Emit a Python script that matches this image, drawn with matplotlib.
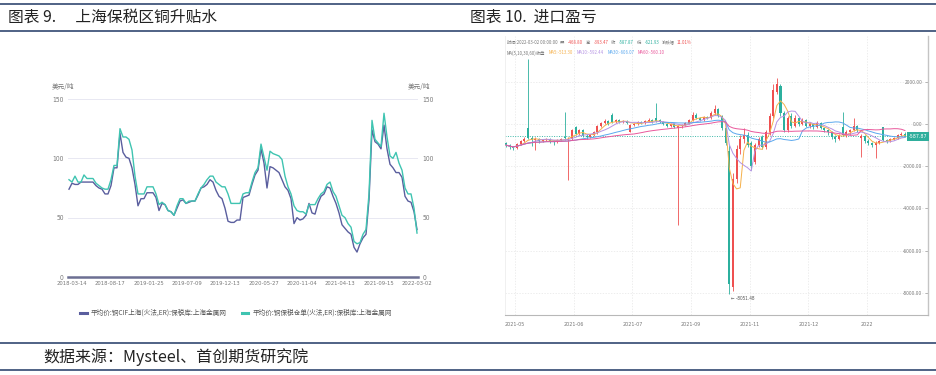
import numpy as np
import pandas as pd
import matplotlib
matplotlib.use('Agg')
import matplotlib.pyplot as plt
from matplotlib.lines import Line2D
from matplotlib import transforms, font_manager

W, H = 937, 375
CJK = ['Noto Sans CJK SC', 'DejaVu Sans']

# narrow face for the small numeric labels, if one is installed
_narrow = [f for f in font_manager.fontManager.ttflist
           if ('Narrow' in f.name or 'Condensed' in f.name or f.stretch in ('condensed', 'semi-condensed'))
           and f.style == 'normal' and f.weight in (400, 'normal', 'regular')]


def num_font(size):
    if _narrow:
        return font_manager.FontProperties(fname=_narrow[0].fname, size=size)
    return font_manager.FontProperties(family=CJK, size=size * 0.95)


# ---- chart 9: 上海保税区铜升贴水 (美元/吨), evenly sampled from 2018-03-14 to 2022-03-02
left_ticklabels = ['2018-03-14', '2018-08-17', '2019-01-25', '2019-07-09', '2019-12-13',
                   '2020-05-27', '2020-11-04', '2021-04-13', '2021-09-15', '2022-03-02']
cif_premium = [74, 79, 78, 78, 80, 80, 80, 80, 80, 77, 75, 74, 70, 70, 77, 92, 92, 121, 105, 101,
               100, 92, 78, 60, 66, 66, 71, 71, 71, 67, 56, 62, 61, 56, 55, 52, 58, 64, 65, 62,
               63, 64, 64, 69, 75, 76, 78, 82, 80, 73, 68, 66, 58, 47, 46, 46, 48, 48, 67, 68,
               69, 78, 86, 90, 108, 96, 75, 93, 92, 90, 88, 82, 76, 73, 66, 45, 50, 48, 49, 52,
               62, 54, 53, 62, 68, 70, 76, 75, 68, 62, 54, 44, 41, 38, 36, 25, 21, 28, 33, 36,
               65, 124, 114, 112, 108, 128, 108, 95, 92, 88, 88, 84, 68, 64, 63, 55, 40]
bonded_premium = [82, 80, 85, 80, 80, 86, 83, 83, 83, 79, 77, 75, 74, 74, 82, 94, 94, 125, 118, 118,
                  116, 107, 85, 70, 70, 70, 76, 76, 76, 70, 61, 63, 61, 56, 55, 52, 60, 66, 66, 62,
                  64, 64, 64, 70, 75, 78, 82, 85, 85, 80, 78, 76, 76, 70, 62, 62, 62, 62, 70, 71,
                  71, 80, 88, 92, 112, 101, 90, 106, 104, 103, 102, 99, 85, 76, 70, 60, 56, 55, 55, 53,
                  61, 61, 61, 66, 70, 72, 78, 80, 72, 68, 60, 52, 50, 45, 42, 30, 28, 29, 36, 40,
                  70, 132, 116, 113, 110, 138, 118, 102, 100, 105, 96, 90, 75, 70, 70, 58, 37]
left_legend = ['平均价:铜CIF上海(火法,ER):保税库:上海金属网', '平均价:铜保税仓单(火法,ER):保税库:上海金属网']

# ---- chart 10: 进口盈亏 daily candles (元/吨)
right_ticklabels = ['2021-05', '2021-06', '2021-07', '2021-09', '2021-11', '2021-12', '2022']
opens = [-900, -1000, -1100, -1150, -950, -800, -200, -650, -750, -700,
         -800, -750, -700, -800, -850, -750, -600, -780, -700, -150,
         -450, -300, -550, -600, -500, -400, -100, 50, 150, 450,
         100, 200, 100, 150, -380, -50, 0, 100, 50, 150,
         200, 300, 200, 100, 0, -100, 0, -200, -100, -50,
         50, 200, 450, 300, 200, 350, 300, 500, 700, 400,
         -200, -1300, -7700, -2600, -1200, -700, -500, -900, -1800, -1000,
         -600, -1100, -400, 400, 1500, 1800, 500, -300, 400, -100,
         300, 0, 200, -100, 0, -150, 50, -200, -300, -400,
         -600, -700, -150, -500, -400, -300, -100, -650, -550, -800,
         -900, -1000, -900, -150, -750, -800, -700, -650, -500, -468.80]
closes = [-1000, -1100, -1150, -950, -800, -700, -650, -750, -700, -800,
          -750, -700, -800, -850, -750, -700, -680, -700, -300, -450,
          -300, -550, -600, -500, -400, -100, 50, 150, 0, 100,
          200, 100, 150, 50, -50, 0, 100, 50, 150, 200,
          100, 150, 100, 0, -100, 0, -150, -100, -50, 50,
          200, 450, 300, 200, 350, 300, 500, 700, 400, -200,
          -900, -7600, -2600, -1200, -700, -500, -1000, -2000, -1000, -700,
          -1100, -400, 400, 1600, 1900, 500, -300, 300, -100, 300,
          0, 200, -100, 0, -150, 50, -200, -300, -400, -600,
          -700, -500, -500, -400, -300, -100, -300, -550, -800, -900,
          -1000, -900, -800, -750, -800, -700, -650, -500, -450, -587.87]
highs = [-850, -950, -1050, -900, -750, -600, 3100, -550, -600, -650,
         -700, -650, -650, -750, -700, -650, 570, -600, -250, -100,
         -250, -250, -450, -450, -350, -50, 100, 250, 200, 520,
         250, 250, 200, 200, 0, 50, 150, 150, 200, 300,
         250, 1000, 250, 150, 50, 50, 50, -50, 0, 100,
         250, 570, 500, 350, 400, 400, 600, 900, 750, 450,
         -150, -1000, -2300, -1000, -500, -200, -400, -800, -900, -600,
         -500, -300, 500, 1900, 2180, 1900, 600, 400, 500, 450,
         350, 300, 250, 100, 50, 150, 100, -150, -250, -350,
         -500, -450, 570, -300, -250, 280, -50, -450, -500, -700,
         -850, -800, -750, -140, -700, -650, -600, -450, -400, -393.47]
lows = [-1100, -1180, -1230, -1200, -1000, -850, -700, -1050, -1250, -900,
        -850, -800, -900, -1000, -900, -800, -750, -2650, -750, -500,
        -500, -600, -700, -650, -550, -450, -150, 0, -50, 50,
        50, 50, 50, 0, -400, -100, -50, 0, 0, 100,
        50, 100, 50, -50, -150, -150, -200, -4790, -200, -100,
        0, 150, 250, 150, 150, 250, 250, 450, 350, -300,
        -1000, -8051.48, -7900, -2800, -1400, -900, -1100, -2200, -1900, -1100,
        -1200, -1200, -500, 300, 1400, 400, -400, -400, -200, -150,
        -100, -50, -150, -200, -250, -200, -250, -400, -500, -700,
        -850, -750, -550, -600, -500, -350, -400, -1560, -900, -1000,
        -1100, -1600, -950, -800, -900, -850, -750, -700, -550, -621.93]
ma_names = ['MA5', 'MA10', 'MA30', 'MA60']
ma_windows = [4, 7, 20, 36]   # candles here are thinned to about every second trading day
ma_values = ['-513.30', '-592.44', '-606.07', '-560.10']
ma_colors = ['#f5b04a', '#b592e3', '#5aa8ee', '#e9579b']

UP, DOWN = '#ef5050', '#2cb09e'
GRAY = '#777777'

fig = plt.figure(figsize=(W / 100, H / 100), dpi=100)

# header / footer rules
for yp in [4, 31, 343, 370]:
    fig.add_artist(Line2D([0, 1], [1 - yp / H, 1 - yp / H], color='#1f3864', lw=1.1))

fig.text(8 / W, 1 - 17 / H, '图表 9.　 上海保税区铜升贴水', fontsize=11.3, family=CJK,
         color='#222222', va='center', fontweight='light')
fig.text(470 / W, 1 - 17 / H, '图表 10.  进口盈亏', fontsize=11.3, family=CJK,
         color='#222222', va='center', fontweight='light')
fig.text(43 / W, 1 - 357 / H, '数据来源：Mysteel、首创期货研究院', fontsize=11.5, family=CJK,
         color='#222222', va='center', fontweight='light')

# ---------------- left chart ----------------
ax1 = fig.add_axes([68 / W, 1 - 277 / H, 350 / W, 178 / H])
x1 = np.arange(len(cif_premium))
ax1.plot(x1, cif_premium, color='#5a5e9e', lw=1.0, label=left_legend[0])
ax1.plot(x1, bonded_premium, color='#3fc4b1', lw=1.0, label=left_legend[1])
ax1.set_ylim(0, 150)
ax1.set_xlim(-0.33, len(x1) - 1 + 0.33)
for v in [50, 100, 150]:
    ax1.axhline(v, color='#e8e8f2', lw=0.7, zorder=0)
ax1.axhline(0, color='#6c6f92', lw=1.8, clip_on=False)
for s in ax1.spines.values():
    s.set_visible(False)
ax1.set_yticks([0, 50, 100, 150])
ax1.set_xticks(np.linspace(1, len(x1) - 1, len(left_ticklabels)))
ax1.set_xticklabels(left_ticklabels)
ax1.tick_params(length=0, labelcolor=GRAY, labelright=True, pad=3)
for tk in ax1.xaxis.get_major_ticks():
    tk.label1.set_fontproperties(num_font(4.2))
for tk in ax1.yaxis.get_major_ticks():
    tk.label1.set_fontproperties(num_font(4.8))
    tk.label2.set_fontproperties(num_font(4.8))
ax1.text(-0.047, 1.07, '美元/吨', transform=ax1.transAxes, fontsize=4.8, family=CJK,
         color=GRAY, va='center')
ax1.text(0.97, 1.07, '美元/吨', transform=ax1.transAxes, fontsize=4.8, family=CJK,
         color=GRAY, va='center')
ax1.legend(loc='center', bbox_to_anchor=(236 / W, 1 - 313 / H), bbox_transform=fig.transFigure,
           ncol=2, frameon=False, prop={'family': CJK, 'size': 4.8}, handlelength=1.0,
           columnspacing=2.2, handletextpad=0.6, labelcolor='#555555')
for ln in ax1.get_legend().get_lines():
    ln.set_linewidth(2.2)

# ---------------- right chart ----------------
ax2 = fig.add_axes([505 / W, 1 - 315 / H, 423 / W, 279 / H])
n = len(closes)
xi = np.arange(n)
o = np.array(opens)
c = np.array(closes)
cols = [UP if cc >= oo else DOWN for oo, cc in zip(o, c)]
ax2.vlines(xi, lows, highs, colors=cols, lw=0.6, zorder=3)
body = np.maximum(np.abs(c - o), 40)
ax2.bar(xi, body, bottom=np.minimum(o, c), width=0.55, color=cols, lw=0, zorder=3)
cs = pd.Series(closes)
for w, col in zip(ma_windows, ma_colors):
    ax2.plot(xi, cs.rolling(w, min_periods=1).mean(), color=col, lw=0.7, zorder=4)

# last close marker
ax2.axhline(closes[-1], color='#3cb8a8', ls=(0, (1, 1.5)), lw=0.7, zorder=2)
blend = transforms.blended_transform_factory(ax2.transAxes, ax2.transData)
ax2.text(0.999, closes[-1], f'{closes[-1]:.2f}', transform=blend, ha='right', va='center',
         fontproperties=num_font(3.8), color='white',
         bbox=dict(boxstyle='square,pad=0.35', fc='#2fae9c', ec='none'), zorder=6)
imin = int(np.argmin(lows))
ax2.text(imin + 0.4, lows[imin] - 80, f'← {lows[imin]:.2f}', fontproperties=num_font(3.3),
         color='#555555', va='top', ha='left')

ax2.set_xlim(-0.27, (928 - 506) / 3.66)
ax2.set_ylim(-9050, 4170)
xt = np.linspace(2.5, 98.6, len(right_ticklabels))
ax2.set_xticks(xt)
ax2.set_xticklabels(right_ticklabels)
ax2.tick_params(axis='x', length=0, labelcolor=GRAY, pad=5)
yv = [2000, 0, -2000, -4000, -6000, -8000]
ax2.yaxis.tick_right()
ax2.set_yticks(yv)
ax2.set_yticklabels([f'{v:.2f}' for v in yv])
ax2.tick_params(axis='y', direction='in', length=2, width=0.5, color='#999999',
                labelcolor=GRAY, pad=-4)
for tk in ax2.xaxis.get_major_ticks():
    tk.label1.set_fontproperties(num_font(3.9))
for tk in ax2.yaxis.get_major_ticks():
    tk.label2.set_fontproperties(num_font(3.4))
    tk.label2.set_horizontalalignment('right')
for v in xt:
    ax2.axvline(v, color='#e6e6e6', lw=0.5, ls=(0, (2, 2)), zorder=0)
for v in yv:
    ax2.axhline(v, color='#e6e6e6', lw=0.5, ls=(0, (2, 2)), zorder=0)
ax2.spines['top'].set_visible(False)
ax2.spines['left'].set_color('#eeeeee')
ax2.spines['left'].set_linewidth(0.6)
ax2.spines['right'].set_color('#c4c4c4')
ax2.spines['right'].set_linewidth(1.0)
ax2.spines['bottom'].set_color('#b8b8b8')
ax2.spines['bottom'].set_linewidth(0.8)

# info lines on top of the candle chart
renderer = fig.canvas.get_renderer()


def text_run(x, y, pieces, size, gap):
    for s, col in pieces:
        t = fig.text(x / W, 1 - y / H, s, color=col, fontsize=size, family=CJK, va='center')
        bb = t.get_window_extent(renderer=renderer)
        x = bb.x1 + gap


text_run(507, 42, [('时间:2022-03-02 00:00:00', GRAY), ('开:', GRAY), (f'{opens[-1]:.2f}', UP),
                   ('高:', GRAY), (f'{highs[-1]:.2f}', UP), ('收:', GRAY), (f'{closes[-1]:.2f}', DOWN),
                   ('低:', GRAY), (f'{lows[-1]:.2f}', DOWN), ('涨跌幅', GRAY), ('11.01%', UP)],
         3.1, 2.5)
text_run(507, 53, [('MA(5,10,30,60)收盘', GRAY)] +
         [(f'{nm}:{val}', col) for nm, val, col in zip(ma_names, ma_values, ma_colors)],
         3.1, 3.5)

fig.savefig('out.png', dpi=100)
